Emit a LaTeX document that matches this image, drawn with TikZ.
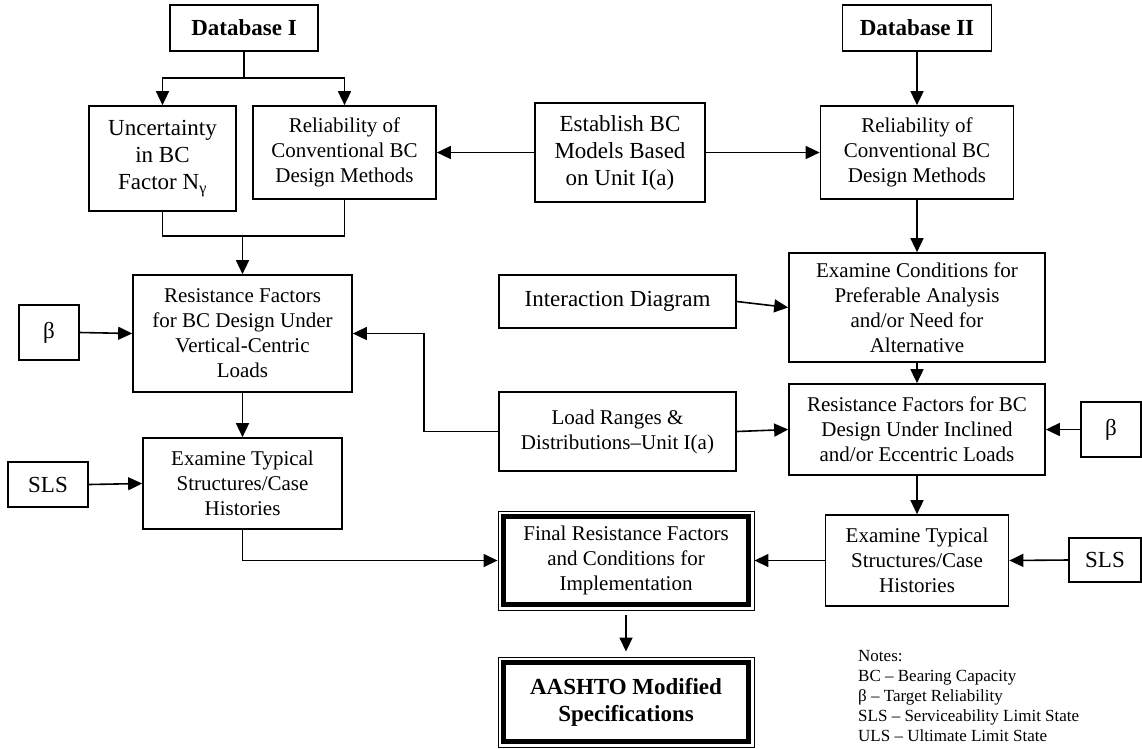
\documentclass[tikz,border=0pt]{standalone}
\usepackage{fontspec}
\setmainfont{Liberation Serif}
\usetikzlibrary{arrows.meta,calc}
\begin{document}
\begin{tikzpicture}[x=1pt,y=-1pt,
  box/.style={draw, line width=1.7pt, inner sep=0pt, align=center, font=\fontsize{21}{25}\selectfont},
  bigbox/.style={box, font=\fontsize{23}{27}\selectfont},
  boldbox/.style={box, font=\bfseries\fontsize{23}{27}\selectfont},
  finalbox/.style={box, line width=0.9pt},
  wh/.style 2 args={minimum width=#1pt, minimum height=#2pt},
  arr/.style={line width=1.6pt, -{Triangle[length=14pt,width=13pt]}},
  ln/.style={line width=1.6pt},
]
\useasboundingbox (0,0) rectangle (1142,748);

% left column
\node[boldbox, wh={148}{46}] (dbI) at (244,28) {Database I};
\node[bigbox, wh={147}{105}] (unc) at (162.5,158.5) {Uncertainty\\in BC\\Factor N\textsubscript{γ}};
\node[box, wh={183}{93}] (relI) at (344.5,152.5) {Reliability of\\Conventional BC\\Design Methods};
\node[box, wh={219}{117}] (resV) at (242.5,333.5) {Resistance Factors\\for BC Design Under\\Vertical-Centric\\Loads};
\node[bigbox, wh={60}{55}] (betaL) at (49,332.5) {β};
\node[box, wh={199}{91}] (exI) at (242.5,483.5) {Examine Typical\\Structures/Case\\Histories};
\node[bigbox, wh={80}{45}] (slsL) at (48,484.5) {SLS};

% middle column
\node[bigbox, wh={170}{99}] (est) at (620,152.5) {Establish BC\\Models Based\\on Unit I(a)};
\node[bigbox, wh={237}{53}] (inter) at (617.5,301.5) {Interaction Diagram};
\node[box, wh={237}{79}] (load) at (617.5,431.5) {Load Ranges \&\\Distributions–Unit I(a)};
\node[finalbox, wh={256}{99}] (final) at (626,560.5) {Final Resistance Factors\\and Conditions for\\Implementation};
\node[finalbox, wh={256}{90}, font=\bfseries\fontsize{23}{27}\selectfont] (aashto) at (626,702) {AASHTO Modified\\Specifications};
\foreach \n in {final,aashto}
  \draw[line width=5pt] ($(\n.north west)+(5.5,5.5)$) rectangle ($(\n.south east)+(-5.5,-5.5)$);

% right column
\node[boldbox, wh={149}{46}] (dbII) at (917,28) {Database II};
\node[box, wh={193}{93}] (relII) at (917,152.5) {Reliability of\\Conventional BC\\Design Methods};
\node[box, wh={256}{109}] (exC) at (917,307.5) {Examine Conditions for\\Preferable Analysis\\and/or Need for\\Alternative};
\node[box, wh={256}{91}] (resI) at (917,429.5) {Resistance Factors for BC\\Design Under Inclined\\and/or Eccentric Loads};
\node[bigbox, wh={60}{55}] (betaR) at (1111,429.5) {β};
\node[box, wh={183}{91}] (exII) at (917,560.5) {Examine Typical\\Structures/Case\\Histories};
\node[bigbox, wh={72}{44}] (slsR) at (1105,560) {SLS};

% notes
\node[anchor=north west, align=left, inner sep=0pt, font=\fontsize{17}{20}\selectfont] (notes) at (858,650)
  {Notes:\\BC – Bearing Capacity\\β – Target Reliability\\SLS – Serviceability Limit State\\ULS – Ultimate Limit State};

% connectors
\coordinate (j1) at (244,78);
\draw[ln] (dbI.south) -- (j1);
\draw[arr] (j1) -| (unc.north);
\draw[arr] (j1) -| (relI.north);
\coordinate (j2) at (242.5,236);
\draw[ln] (unc.south) |- (j2);
\draw[ln] (relI.south) |- (j2);
\draw[arr] (j2) -- (resV.north);
\draw[arr] (est.west) -- (relI.east);
\draw[arr] (est.east) -- (relII.west);
\draw[arr] (dbII.south) -- (relII.north);
\draw[arr] (relII.south) -- (exC.north);
\draw[arr] (inter.east) -- (exC.west);
\draw[arr] (exC.south) -- (resI.north);
\draw[arr] (load.east) -- (resI.west);
\draw[arr] (load.west) -- ++(-74,0) |- (resV.east);
\draw[arr] (betaL.east) -- (resV.west);
\draw[arr] (resV.south) -- (exI.north);
\draw[arr] (slsL.east) -- (exI.west);
\draw[arr] (exI.south) |- (final.west);
\draw[arr] (betaR.west) -- (resI.east);
\draw[arr] (resI.south) -- (exII.north);
\draw[arr] (slsR.west) -- (exII.east);
\draw[arr] (exII.west) -- (final.east);
\draw[arr, shorten <=5pt, shorten >=5pt] (final.south) -- (aashto.north);
\end{tikzpicture}
\end{document}
